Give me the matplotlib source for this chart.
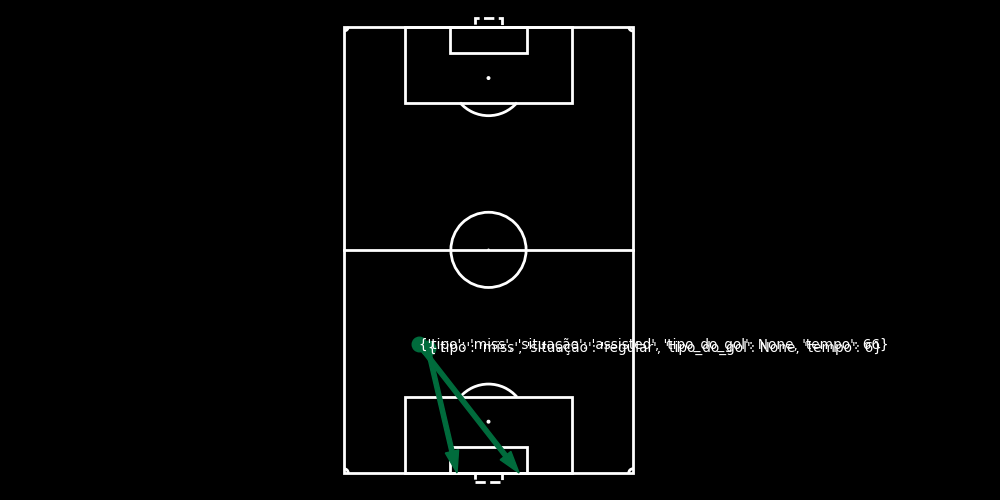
import matplotlib
matplotlib.use("Agg")
import matplotlib.pyplot as plt
from matplotlib.patches import Rectangle, Circle, Arc
import numpy as np

# pitch size in metres (opta coordinates are scaled to this)
LENGTH = 105.0
WIDTH = 68.0

# shots in opta units: x = length %, y = width %
shot_x = [28.8, 28.0]
shot_y = [25.9, 29.0]
end_x = [0.0, 0.0]
end_y = [60.6, 39.1]
shot_info = [
    {'tipo': 'miss', 'situação': 'assisted', 'tipo_do_gol': None, 'tempo': 66},
    {'tipo': 'miss', 'situação': 'regular', 'tipo_do_gol': None, 'tempo': 6},
]

LINE = "white"
ARROW = "#006b3c"


def sx(y):
    return np.asarray(y) / 100 * WIDTH


def sy(x):
    return np.asarray(x) / 100 * LENGTH


def draw_pitch(ax, lw=2):
    kw = dict(fill=False, edgecolor=LINE, linewidth=lw, zorder=2)
    ax.add_patch(Rectangle((0, 0), WIDTH, LENGTH, **kw))
    ax.plot([0, WIDTH], [LENGTH / 2, LENGTH / 2], color=LINE, lw=lw, zorder=2)
    ax.add_patch(Circle((WIDTH / 2, LENGTH / 2), 8.85, **kw))
    ax.add_patch(Circle((WIDTH / 2, LENGTH / 2), 0.15, color=LINE, zorder=2))
    box_w = sx(78.9) - sx(21.1)
    six_w = sx(63.2) - sx(36.8)
    goal_w = sx(54.8) - sx(45.2)
    for end, sign in [(0, 1), (LENGTH, -1)]:
        box_d = sy(17) * sign
        six_d = sy(5.8) * sign
        spot = end + sy(11.5) * sign
        ax.add_patch(Rectangle((sx(21.1), min(end, end + box_d)), box_w, abs(box_d), **kw))
        ax.add_patch(Rectangle((sx(36.8), min(end, end + six_d)), six_w, abs(six_d), **kw))
        ax.add_patch(Circle((WIDTH / 2, spot), 0.3, color=LINE, zorder=2))
        # penalty arc outside the box
        dy = abs(box_d) - abs(spot - end)
        half = np.degrees(np.arccos(dy / 8.85))
        centre = 90 if sign == 1 else 270
        ax.add_patch(Arc((WIDTH / 2, spot), 17.7, 17.7, theta1=centre - half,
                         theta2=centre + half, color=LINE, lw=lw, zorder=2))
        # goal
        gd = 2.0 * -sign
        ax.add_patch(Rectangle((sx(45.2), min(end, end + gd)), goal_w, abs(gd),
                               fill=False, edgecolor=LINE, linewidth=lw, linestyle="--", zorder=2))
    # corner arcs
    for cx, cy, t1 in [(0, 0, 0), (WIDTH, 0, 90), (WIDTH, LENGTH, 180), (0, LENGTH, 270)]:
        ax.add_patch(Arc((cx, cy), 2, 2, theta1=t1, theta2=t1 + 90, color=LINE, lw=lw, zorder=2))


fig = plt.figure(figsize=(10, 5), dpi=100, facecolor="black")
pad = 4
ax = fig.add_axes([327 / 1000, 10 / 500, 323 / 1000, 480.25 / 500])
ax.set_facecolor("black")
ax.set_xlim(-pad, WIDTH + pad)
ax.set_ylim(-pad, LENGTH + pad)
ax.axis("off")

draw_pitch(ax)

x0, y0 = sx(shot_y), sy(shot_x)
x1, y1 = sx(end_y), sy(end_x)
ax.scatter(x0, y0, s=110, color=ARROW, zorder=4)
for i in range(len(shot_info)):
    ax.arrow(x0[i], y0[i], x1[i] - x0[i], y1[i] - y0[i], width=1.0, head_width=3.2,
             head_length=5.2, length_includes_head=True, color=ARROW, zorder=5)
    ax.text(x0[i], y0[i], str(shot_info[i]), color="white", fontsize=9.8,
            ha="left", va="center", zorder=6)

fig.savefig("out.png", dpi=100, facecolor="black")
